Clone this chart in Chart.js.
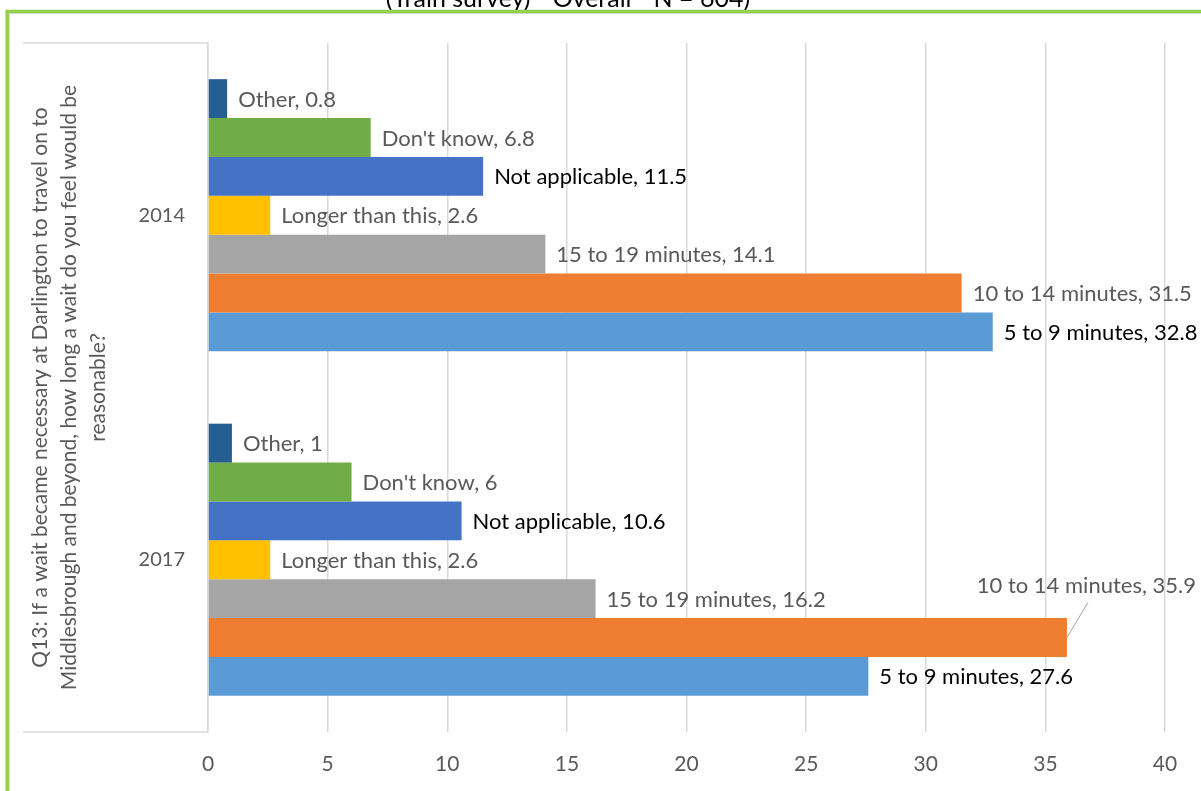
<!DOCTYPE html>
<html>
<head>
<meta charset="utf-8">
<script src="https://cdn.jsdelivr.net/npm/chart.js@4/dist/chart.umd.min.js"></script>
<style>
  html, body { margin: 0; padding: 0; background: #fff; }
  #wrap { width: 1201px; height: 791px; }
</style>
</head>
<body>
<div id="wrap"><canvas id="c" width="1201" height="791"></canvas></div>
<script>
// Survey years (categories)
const categories = ['2014', '2017'];

// Answer shares in percent, one array per answer
const other = [0.8, 1];
const dontKnow = [6.8, 6];
const notApplicable = [11.5, 10.6];
const longerThanThis = [2.6, 2.6];
const min15to19 = [14.1, 16.2];
const min10to14 = [31.5, 35.9];
const min5to9 = [32.8, 27.6];

// Value axis ticks
const xTicks = [0, 5, 10, 15, 20, 25, 30, 35, 40];

const chartTitle = '(Train survey) - Overall - N = 604)';
const axisTitle = [
  'Q13: If a wait became necessary at Darlington to travel on to',
  'Middlesbrough and beyond, how long a wait do you feel would be',
  'reasonable?'
];

const FONT = 'Lato, "Open Sans", sans-serif';
const GREY_TEXT = '#595959';

const series = [
  { label: 'Other', data: other, color: '#255E91', labelColor: GREY_TEXT },
  { label: "Don't know", data: dontKnow, color: '#70AD47', labelColor: GREY_TEXT },
  { label: 'Not applicable', data: notApplicable, color: '#4472C4', labelColor: '#000000' },
  { label: 'Longer than this', data: longerThanThis, color: '#FFC000', labelColor: GREY_TEXT },
  { label: '15 to 19 minutes', data: min15to19, color: '#A5A5A5', labelColor: GREY_TEXT },
  { label: '10 to 14 minutes', data: min10to14, color: '#ED7D31', labelColor: GREY_TEXT },
  { label: '5 to 9 minutes', data: min5to9, color: '#5B9BD5', labelColor: '#000000' }
];

// Frame, clipped title line and the box around the category axis
const framePlugin = {
  id: 'frame',
  beforeDraw(chart) {
    const { ctx, width, height } = chart;
    ctx.save();
    ctx.fillStyle = '#ffffff';
    ctx.fillRect(0, 0, width, height);
    ctx.restore();
  },
  afterDraw(chart) {
    const { ctx, width, height, chartArea } = chart;
    ctx.save();
    // title text sits above the frame, mostly outside the canvas
    ctx.font = '25px ' + FONT;
    ctx.fillStyle = '#000000';
    ctx.textAlign = 'center';
    ctx.textBaseline = 'alphabetic';
    ctx.fillText(chartTitle, 568, 7);

    // green outer frame with a faint shadow
    ctx.strokeStyle = '#dcdcdc';
    ctx.lineWidth = 1;
    ctx.beginPath();
    ctx.moveTo(9.5, height);
    ctx.lineTo(9.5, 13.5);
    ctx.lineTo(width, 13.5);
    ctx.stroke();
    ctx.strokeStyle = '#92D050';
    ctx.lineWidth = 3.5;
    ctx.beginPath();
    ctx.moveTo(7.2, height);
    ctx.lineTo(7.2, 11.5);
    ctx.lineTo(width, 11.5);
    ctx.stroke();

    // lines closing the category-axis box
    ctx.strokeStyle = '#d9d9d9';
    ctx.lineWidth = 1.5;
    ctx.beginPath();
    ctx.moveTo(23, chartArea.top);
    ctx.lineTo(chartArea.left, chartArea.top);
    ctx.moveTo(23, chartArea.bottom);
    ctx.lineTo(chartArea.left, chartArea.bottom);
    ctx.stroke();
    ctx.restore();
  }
};

// "Series, value" labels to the right of each bar
const barLabelPlugin = {
  id: 'barLabels',
  afterDatasetsDraw(chart) {
    const { ctx, width } = chart;
    ctx.save();
    ctx.font = '22px ' + FONT;
    ctx.textBaseline = 'middle';
    chart.data.datasets.forEach((ds, di) => {
      const meta = chart.getDatasetMeta(di);
      meta.data.forEach((bar, i) => {
        const text = ds.label + ', ' + String(ds.data[i]);
        const w = ctx.measureText(text).width;
        const x = bar.x + 11;
        const y = bar.y + 1;
        ctx.fillStyle = series[di].labelColor;
        if (x + w > width - 1) {
          // not enough room: lift the label above and add a leader line
          const ty = y - 53;
          ctx.textAlign = 'right';
          ctx.fillText(text, width - 5, ty);
          ctx.strokeStyle = '#a6a6a6';
          ctx.lineWidth = 1;
          ctx.beginPath();
          ctx.moveTo(bar.x, y - 1);
          ctx.lineTo(bar.x + 21, ty + 17);
          ctx.stroke();
        } else {
          ctx.textAlign = 'left';
          ctx.fillText(text, x, y);
        }
      });
    });
    ctx.restore();
  }
};

new Chart(document.getElementById('c'), {
  type: 'bar',
  data: {
    labels: categories,
    datasets: series.map(s => ({
      label: s.label,
      data: s.data,
      backgroundColor: s.color,
      borderWidth: 0,
      barPercentage: 1,
      categoryPercentage: 0.79
    }))
  },
  options: {
    indexAxis: 'y',
    responsive: false,
    animation: false,
    devicePixelRatio: 1,
    layout: { padding: { top: 43, right: 36, left: 0, bottom: 0 } },
    plugins: {
      legend: { display: false },
      title: { display: false },
      tooltip: { enabled: false }
    },
    scales: {
      x: {
        min: 0,
        max: 40,
        afterBuildTicks(scale) { scale.ticks = xTicks.map(v => ({ value: v })); },
        afterFit(scale) { scale.height = 59; },
        grid: { color: '#d9d9d9', lineWidth: 1.5, drawTicks: false },
        border: { display: false },
        ticks: { color: GREY_TEXT, font: { family: FONT, size: 21 }, padding: 20 }
      },
      y: {
        afterFit(scale) { scale.width = 208; },
        grid: { display: false, drawTicks: false },
        border: { display: true, color: '#d9d9d9', width: 1.5 },
        ticks: { color: GREY_TEXT, font: { family: FONT, size: 20 }, padding: 23 },
        title: {
          display: true,
          text: axisTitle,
          color: GREY_TEXT,
          font: { family: FONT, size: 21, lineHeight: 1.38 },
          padding: { top: 25.5, bottom: 0 }
        }
      }
    }
  },
  plugins: [framePlugin, barLabelPlugin]
});
</script>
</body>
</html>
